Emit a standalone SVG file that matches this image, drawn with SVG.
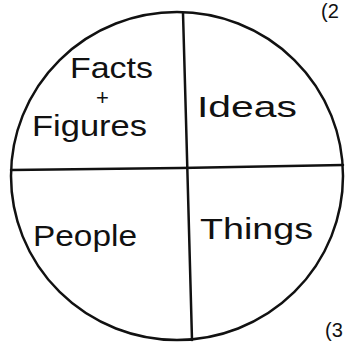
<svg xmlns="http://www.w3.org/2000/svg" width="345" height="342" viewBox="0 0 345 342">
<style>
.ln{fill:none;stroke:#111;stroke-width:2.5;stroke-linecap:round}
.t{font-family:"Liberation Sans","DejaVu Sans",sans-serif;fill:#111;font-size:29px}
.p{font-family:"Liberation Sans","DejaVu Sans",sans-serif;fill:#111;font-size:22px}
.m{font-family:"Liberation Sans","DejaVu Sans",sans-serif;fill:#111;font-size:20px}
</style>
<rect width="345" height="342" fill="#fff"/>
<g id="circle">
<ellipse class="ln" cx="177" cy="176" rx="166" ry="164"/>
</g>
<g id="connectors">
<path class="ln" d="M183,13 L186,120 L192,340"/>
<path class="ln" d="M11,170 L180,168 L343,165"/>
</g>
<g id="facts-figures">
<text class="t" x="70" y="78" textLength="83" lengthAdjust="spacingAndGlyphs">Facts</text>
<text class="p" x="96" y="105">+</text>
<text class="t" x="32" y="136" textLength="115" lengthAdjust="spacingAndGlyphs">Figures</text>
</g>
<g id="ideas">
<text class="t" x="197" y="117" textLength="100" lengthAdjust="spacingAndGlyphs">Ideas</text>
</g>
<g id="people">
<text class="t" x="33" y="246" textLength="104" lengthAdjust="spacingAndGlyphs">People</text>
</g>
<g id="things">
<text class="t" x="200" y="239" textLength="113" lengthAdjust="spacingAndGlyphs">Things</text>
</g>
<g id="marks">
<text class="m" x="321" y="18">(2</text>
<text class="m" x="325" y="337">(3</text>
</g>
</svg>
